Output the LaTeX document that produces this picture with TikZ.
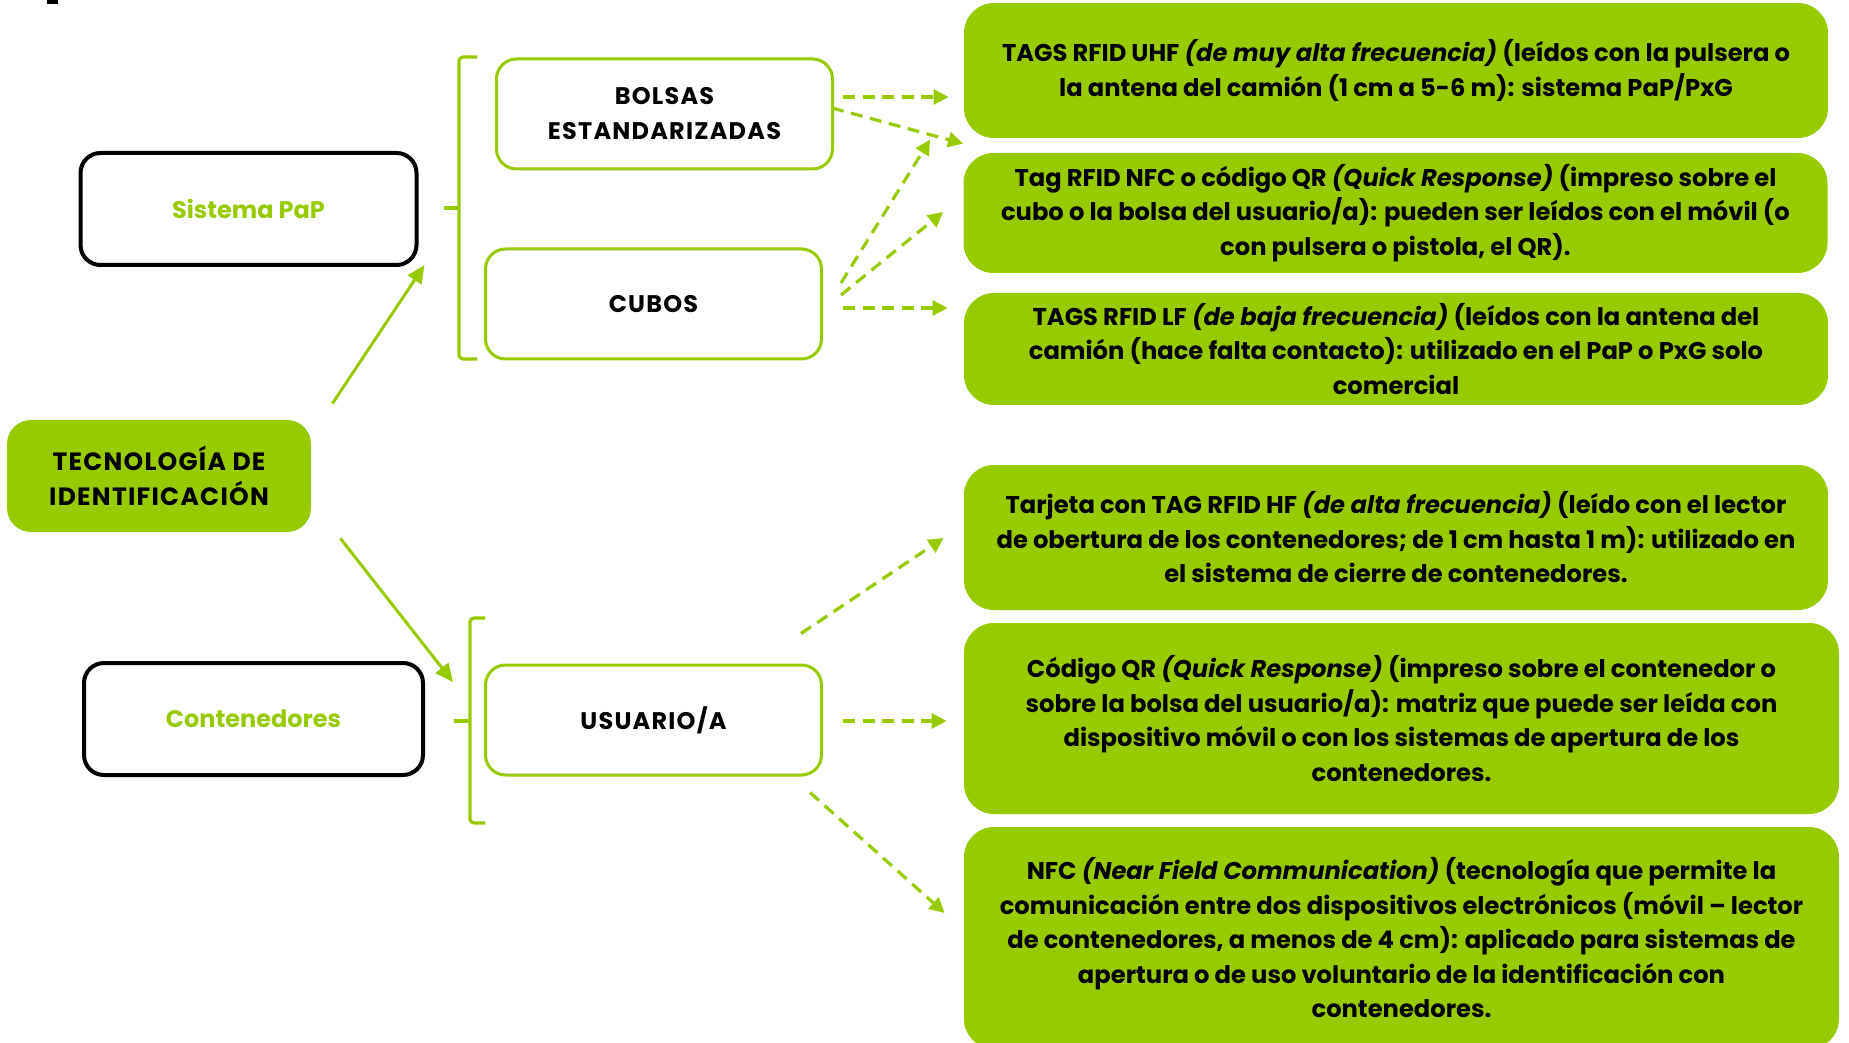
\documentclass[tikz,border=0pt]{standalone}
\usepackage{fontspec}
\setmainfont{Poppins}
\usepackage{tikz}
\usetikzlibrary{arrows.meta}
\definecolor{lima}{RGB}{150,203,0}

\begin{document}
\begin{tikzpicture}[x=0.5pt,y=-0.5pt,
  negra/.style={draw=black,line width=2pt,rounded corners=10pt,fill=white,minimum width=168pt,minimum height=56pt,text=lima,font=\bfseries\fontsize{12}{17}\selectfont},
  blanca/.style={draw=lima,line width=1.5pt,rounded corners=10pt,minimum width=168pt,minimum height=55pt,align=center,font=\bfseries\fontsize{12}{17.5}\selectfont\addfontfeatures{LetterSpace=5}},
  verde/.style={fill=lima,rounded corners=15pt,minimum width=432pt,align=center,inner sep=0pt,font=\bfseries\fontsize{12.1}{17.25}\selectfont},
  flecha/.style={lima,line width=1.5pt,-{Triangle[length=9pt,width=8pt]}},
  punteada/.style={lima,line width=1.6pt,dash pattern=on 6pt off 3.8pt,-{Triangle[length=7.5pt,width=7.5pt]}},
  llave/.style={lima,line width=1.6pt,rounded corners=2pt}]
\useasboundingbox (0,0) rectangle (1849,1043);
\clip (0,0) rectangle (1849,1043);
\fill (47,0) rectangle (58,4);
%Izquierda
\node [negra] (pap) at (248.5,209) {Sistema PaP};
\node [verde,minimum width=152pt,minimum height=56pt,rounded corners=12pt,font=\bfseries\fontsize{12.5}{17.5}\selectfont\addfontfeatures{LetterSpace=5}] (tec) at (159,476) {TECNOLOGÍA DE\\IDENTIFICACIÓN};
\node [negra,minimum width=169.5pt] (cont) at (253.5,719) {Contenedores};
%Centro
\node [blanca] (bolsas) at (664.5,114) {BOLSAS\\ESTANDARIZADAS};
\node [blanca] (cubos) at (653.5,304) {CUBOS};
\node [blanca] (usuario) at (653.5,720) {USUARIO/A};
%Llaves
\coordinate (ll1) at (459,208);
\coordinate (ll2) at (470,721);
\draw [llave] (477,57) -- (459,57) -- (459,359) -- (477,359);
\draw [llave] (444,208) -- (ll1);
\draw [llave] (485,618) -- (470,618) -- (470,823) -- (485,823);
\draw [llave] (454,721) -- (ll2);
%Derecha
\node [verde,minimum height=67.5pt] (uhf) at (1396,70.5) {TAGS RFID UHF \textit{(de muy alta frecuencia)} (leídos con la pulsera o\\la antena del camión (1 cm a 5-6 m): sistema PaP/PxG};
\node [verde,minimum height=60pt] (nfc) at (1395.5,213) {Tag RFID NFC o código QR \textit{(Quick Response)} (impreso sobre el\\cubo o la bolsa del usuario/a): pueden ser leídos con el móvil (o\\con pulsera o pistola, el QR).};
\node [verde,minimum height=56pt] (lf) at (1396,349) {TAGS RFID LF \textit{(de baja frecuencia)} (leídos con la antena del\\camión (hace falta contacto): utilizado en el PaP o PxG solo\\comercial};
\node [verde,minimum height=72.5pt] (hf) at (1396,537.5) {Tarjeta con TAG RFID HF \textit{(de alta frecuencia)} (leído con el lector\\de obertura de los contenedores; de 1 cm hasta 1 m): utilizado en\\el sistema de cierre de contenedores.};
\node [verde,minimum width=437.5pt,minimum height=95.5pt] (qr) at (1401.5,718.5) {Código QR \textit{(Quick Response)} (impreso sobre el contenedor o\\sobre la bolsa del usuario/a): matriz que puede ser leída con\\dispositivo móvil o con los sistemas de apertura de los\\contenedores.};
\node [verde,minimum width=437.5pt,minimum height=111pt] (ncom) at (1401.5,938) {NFC \textit{(Near Field Communication)} (tecnología que permite la\\comunicación entre dos dispositivos electrónicos (móvil – lector\\de contenedores, a menos de 4 cm): aplicado para sistemas de\\apertura o de uso voluntario de la identificación con\\contenedores.};
%Flechas
\draw [flecha] ([shift={(21,-16)}]tec.north east) -- ([shift={(6,-2)}]pap.south east);
\draw [flecha] ([shift={(29,6)}]tec.south east) -- ([shift={(-17,-39)}]ll2);
\draw [punteada] ([shift={(9,-17)}]bolsas.east) -- ([shift={(-15,26.5)}]uhf.west);
\draw [punteada] ([shift={(-2,-6)}]bolsas.east) -- ([shift={(0,-9)}]nfc.north west);
\draw [punteada] ([shift={(18,-21)}]cubos.east) -- ([shift={(-33,-13)}]nfc.north west);
\draw [punteada] ([shift={(18,-9)}]cubos.east) -- ([shift={(-20,-1)}]nfc.west);
\draw [punteada] ([shift={(20,4)}]cubos.east) -- ([shift={(-16,-41)}]lf.west);
\draw [punteada] ([shift={(-22,-30)}]usuario.north east) -- ([shift={(-20,0.5)}]hf.west);
\draw [punteada] ([shift={(20,1)}]usuario.east) -- ([shift={(-17,2.5)}]qr.west);
\draw [punteada] ([shift={(-13,16)}]usuario.south east) -- ([shift={(-19,-25)}]ncom.west);
\end{tikzpicture}
\end{document}
